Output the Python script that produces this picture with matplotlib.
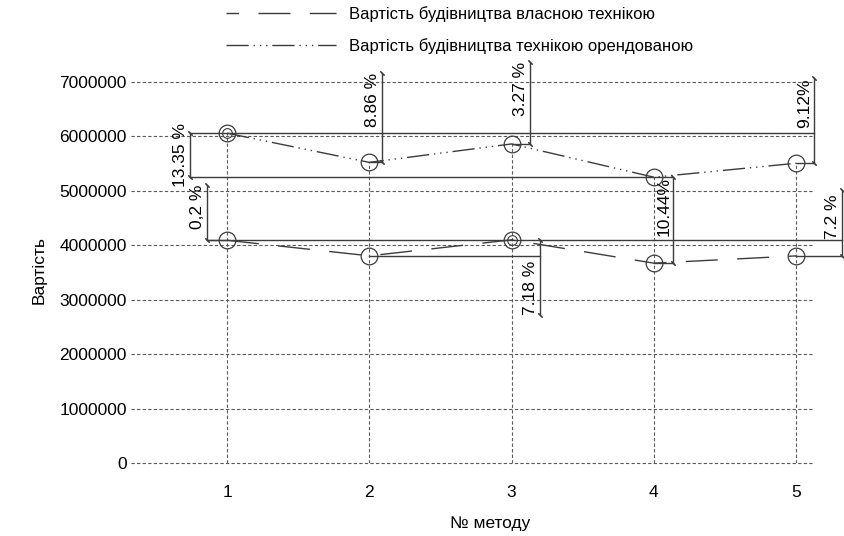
import numpy as np
import matplotlib
matplotlib.use("Agg")
import matplotlib.pyplot as plt
from matplotlib.lines import Line2D

plt.rcParams['font.family'] = ['Liberation Sans', 'DejaVu Sans']
plt.rcParams['font.size'] = 12

# data
methods = [1, 2, 3, 4, 5]
own_cost = [4092000, 3806000, 4100000, 3672000, 3805000]
rented_cost = [6060000, 5523000, 5862000, 5251000, 5507000]
own_label = "Вартість будівництва власною технікою"
rented_label = "Вартість будівництва технікою орендованою"
own_pct = ['0,2 %', '7.18 %', '', '10.44%', '7.2 %']
rented_pct = ['', '8.86 %', '3.27 %', '13.35 %', '9.12%']
yticks = [0, 1000000, 2000000, 3000000, 4000000, 5000000, 6000000, 7000000]

dark = '#3c3c3c'
grid = '#5a5a5a'
own_dash = (23, 14)
rent_dash = (16, 3.5, 1, 3.5, 1, 3.5, 1, 3.5)

fig = plt.figure(figsize=(8.45, 5.36), dpi=100)
ax = fig.add_axes([131/845, 1-463/536, (812-131)/845, 381/536])
ax.set_xlim(0.325, 5.112)
ax.set_ylim(0, 7000000)
for s in ax.spines.values():
    s.set_visible(False)

ax.set_yticks(yticks)
ax.set_yticklabels([str(v) for v in yticks])
ax.set_xticks(methods)
ax.tick_params(axis='both', length=0, colors='black', labelsize=12.5)
ax.tick_params(axis='y', pad=3)
ax.tick_params(axis='x', pad=16)
ax.yaxis.grid(True, linestyle=(0, (3, 2)), color=grid, lw=0.8)
for gl in ax.get_ygridlines():
    gl.set_clip_on(False)
ax.set_axisbelow(True)

# drop lines from upper points
ax.vlines(methods, 0, rented_cost, colors=grid, linestyles=(0, (3, 2)), lw=0.8)

ax.plot(methods, own_cost, color=dark, lw=1, dashes=own_dash,
        marker='o', ms=12, mfc='none', mec=dark, mew=0.9)
ax.plot(methods, rented_cost, color=dark, lw=1, dashes=rent_dash,
        marker='o', ms=12, mfc='none', mec=dark, mew=0.9)

# doubled circle on the reference point of each series
i_own = int(np.argmax(own_cost))
i_rent = int(np.argmax(rented_cost))
ax.plot(methods[i_own], own_cost[i_own], 'o', ms=7, mfc='none', mec=dark, mew=0.8)
ax.plot(methods[i_rent], rented_cost[i_rent], 'o', ms=7, mfc='none', mec=dark, mew=0.8)

kw = dict(color=dark, lw=1, clip_on=False)
tick = dict(marker=(2, 2, 45), ms=4, mew=0.8, color=dark, ls='none', clip_on=False)


def dim(x, y0, y1, text, va='top', ty=None):
    ax.plot([x, x], [y0, y1], **kw)
    ax.plot([x, x], [y0, y1], **tick)
    if ty is None:
        ty = max(y0, y1)
    ax.text(x - 0.012, ty, text, rotation=90, ha='right', va=va, fontsize=12.5,
            clip_on=False)


# upper series dimensions
r_max = rented_cost[i_rent]
r_min = min(rented_cost)
ax.plot([0.74, 5.127], [r_max, r_max], **kw)
ax.plot([0.74, 4.134], [r_min, r_min], **kw)
dim(0.74, r_max, r_min, rented_pct[3], va='center', ty=(r_max + r_min) / 2)

ax.plot([methods[1], 2.09], [rented_cost[1], rented_cost[1]], **kw)
dim(2.09, rented_cost[1], 7165000, rented_pct[1])
ax.plot([methods[2], 3.127], [rented_cost[2], rented_cost[2]], **kw)
dim(3.127, rented_cost[2], 7367000, rented_pct[2])
ax.plot([methods[4], 5.127], [rented_cost[4], rented_cost[4]], **kw)
dim(5.127, rented_cost[4], 7070000, rented_pct[4])

# lower series dimensions
o_max = own_cost[i_own]
ax.plot([0.86, 5.323], [o_max, o_max], **kw)
ax.plot([0.86, methods[0]], [own_cost[0], own_cost[0]], **kw)
dim(0.86, own_cost[0], 5107000, own_pct[0])

ax.plot([methods[1], 3.197], [own_cost[1], own_cost[1]], **kw)
dim(3.197, o_max, 2720000, own_pct[1], va='bottom', ty=2720000)

ax.plot([methods[3], 4.134], [own_cost[3], own_cost[3]], **kw)
dim(4.134, own_cost[3], r_min, own_pct[3])

ax.plot([methods[4], 5.323], [own_cost[4], own_cost[4]], **kw)
dim(5.323, own_cost[4], 5016000, own_pct[4], ty=4930000)

ax.set_xlabel("№ методу", fontsize=12.5)
ax.xaxis.set_label_coords((490 - 131) / 681, (463 - 516) / 381)
ax.set_ylabel("Вартість", fontsize=12.5)
ax.yaxis.set_label_coords((47 - 131) / 681, 0.507)

handles = [Line2D([], [], color=dark, lw=1, linestyle=(14, own_dash)),
           Line2D([], [], color=dark, lw=1, dashes=rent_dash)]
fig.legend(handles, [own_label, rented_label], loc='upper left',
           bbox_to_anchor=(226/845, 1 - 6/536), frameon=False,
           fontsize=12, handlelength=6.6, handletextpad=0.8, labelspacing=0.95,
           borderpad=0, borderaxespad=0)

fig.savefig("out.png", dpi=100)
